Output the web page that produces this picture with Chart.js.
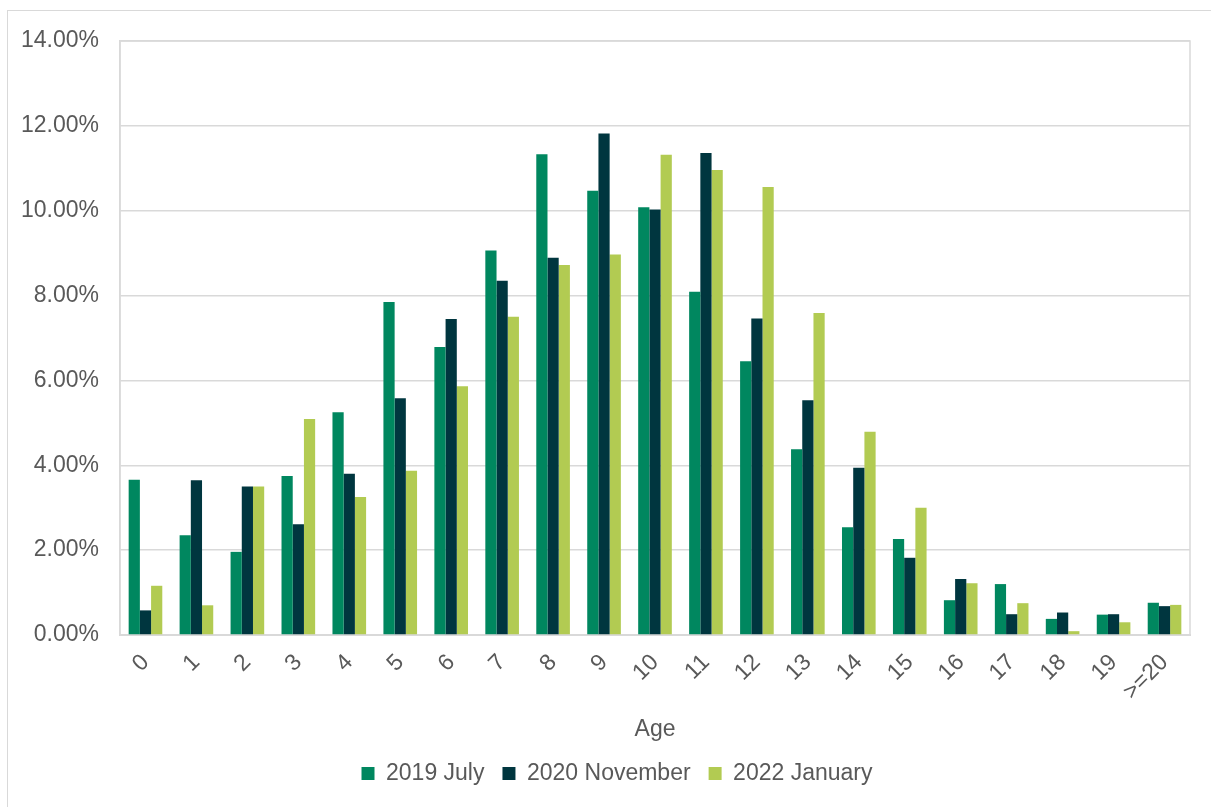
<!DOCTYPE html>
<html>
<head>
<meta charset="utf-8">
<script src="https://cdn.jsdelivr.net/npm/chart.js@4"></script>
<style>
    body { margin: 0; background: #fff; }
    #wrap { position: relative; width: 1211px; height: 807px; overflow: hidden; }
    #frame { position: absolute; left: 7px; top: 10px; width: 1230px; height: 830px; border: 1px solid #D9D9D9; }
    #ageChart { position: absolute; left: 0; top: 0; }
</style>
</head>
<body>
<div id="wrap">
    <div id="frame"></div>
    <canvas id="ageChart" width="1211" height="807"></canvas>
</div>
<script>
const ages = ['0', '1', '2', '3', '4', '5', '6', '7', '8', '9', '10', '11', '12', '13', '14', '15', '16', '17', '18', '19', '>=20'];
const july2019 = [3.66, 2.35, 1.96, 3.75, 5.25, 7.85, 6.79, 9.06, 11.33, 10.47, 10.08, 8.09, 6.45, 4.38, 2.54, 2.26, 0.82, 1.20, 0.38, 0.48, 0.76];
const nov2020 = [0.58, 3.65, 3.50, 2.61, 3.80, 5.58, 7.45, 8.35, 8.89, 11.82, 10.03, 11.36, 7.46, 5.53, 3.94, 1.82, 1.32, 0.49, 0.53, 0.49, 0.68];
const jan2022 = [1.16, 0.70, 3.50, 5.09, 3.25, 3.87, 5.86, 7.50, 8.72, 8.97, 11.32, 10.96, 10.56, 7.59, 4.79, 3.00, 1.22, 0.75, 0.09, 0.30, 0.71];
const yTicks = [0, 2, 4, 6, 8, 10, 12, 14];

const textColor = '#595959';
const gridColor = '#D9D9D9';
const fontFamily = '"Liberation Sans", Arial, sans-serif';

// draws the grey box round the plot area, like Excel does
const plotBorder = {
    id: 'plotBorder',
    beforeDatasetsDraw(chart) {
        const { ctx, chartArea: a } = chart;
        ctx.save();
        ctx.strokeStyle = gridColor;
        ctx.lineWidth = 1.5;
        ctx.strokeRect(a.left, a.top, a.right - a.left, a.bottom - a.top);
        ctx.restore();
    }
};

// the legend in the original sits a little right of centre
const legendShift = {
    id: 'legendShift',
    afterLayout(chart) {
        if (chart.legend) {
            chart.legend.left += 18;
            chart.legend.right += 18;
        }
    }
};

const ctx = document.getElementById('ageChart').getContext('2d');

new Chart(ctx, {
    type: 'bar',
    data: {
        labels: ages,
        datasets: [
            { label: '2019 July', data: july2019, backgroundColor: '#00875F' },
            { label: '2020 November', data: nov2020, backgroundColor: '#00363F' },
            { label: '2022 January', data: jan2022, backgroundColor: '#B2CB52' }
        ]
    },
    options: {
        responsive: false,
        animation: false,
        datasets: {
            bar: {
                barPercentage: 1,
                categoryPercentage: 0.66
            }
        },
        layout: {
            padding: { left: 8, right: 21, top: 41, bottom: 12 }
        },
        plugins: {
            tooltip: { enabled: false },
            legend: {
                position: 'bottom',
                labels: {
                    boxWidth: 13,
                    boxHeight: 13,
                    color: textColor,
                    padding: 18,
                    font: { family: fontFamily, size: 23 }
                }
            }
        },
        scales: {
            x: {
                grid: { display: false },
                border: { color: gridColor, width: 2 },
                ticks: {
                    color: textColor,
                    minRotation: 45,
                    maxRotation: 45,
                    padding: 6,
                    font: { family: fontFamily, size: 23 }
                },
                title: {
                    display: true,
                    text: 'Age',
                    color: textColor,
                    padding: { top: 4, bottom: 1 },
                    font: { family: fontFamily, size: 23 }
                },
                afterFit: (scale) => {
                    const legendH = scale.chart.legend ? scale.chart.legend.height : 0;
                    scale.height = 807 - 635 - 12 - legendH;
                }
            },
            y: {
                min: 0,
                max: 14,
                afterBuildTicks: (scale) => {
                    scale.ticks = yTicks.map(v => ({ value: v }));
                },
                grid: { color: gridColor, lineWidth: 1.5, drawTicks: false },
                border: { color: gridColor, width: 1.5 },
                ticks: {
                    color: textColor,
                    padding: 21,
                    font: { family: fontFamily, size: 23 },
                    callback: (val) => val.toFixed(2) + '%'
                },
                afterFit: (scale) => {
                    scale.width = 112;
                }
            }
        }
    },
    plugins: [plotBorder, legendShift]
});
</script>
</body>
</html>
